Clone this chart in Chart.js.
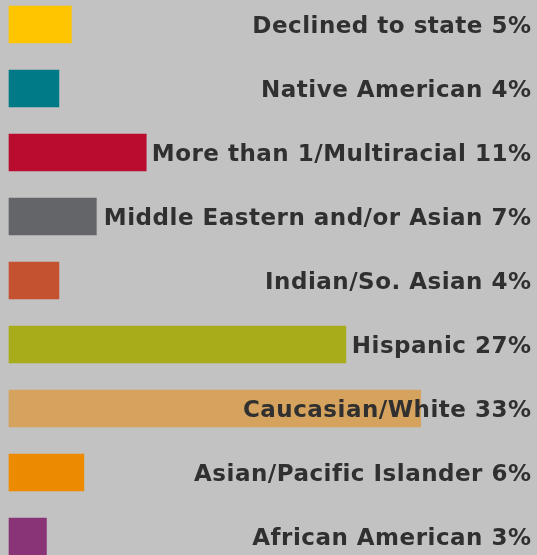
<!DOCTYPE html>
<html lang="en">
<head>
    <meta charset="UTF-8">
    <title>Ethnicity</title>
    <script src="https://cdn.jsdelivr.net/npm/chart.js"></script>
    <style>
        html, body {
            margin: 0;
            padding: 0;
            background-color: #c2c2c2;
            overflow: hidden;
        }
        #wrap {
            position: relative;
            width: 537px;
            height: 555px;
        }
    </style>
</head>
<body>
    <div id="wrap"><canvas id="grafico"></canvas></div>

    <script>
        const categorias = [
            'Declined to state',
            'Native American',
            'More than 1/Multiracial',
            'Middle Eastern and/or Asian',
            'Indian/So. Asian',
            'Hispanic',
            'Caucasian/White',
            'Asian/Pacific Islander',
            'African American'
        ];
        const valores = [5, 4, 11, 7, 4, 27, 33, 6, 3];
        const cores = ['#ffc600', '#007a87', '#b90c2f', '#636569', '#c4512f',
                       '#a8ac1a', '#d6a35e', '#ec8b00', '#8a3478'];

        // rótulos à direita, alinhados na borda
        const rotulos = {
            id: 'rotulos',
            afterDatasetsDraw(chart) {
                const ctx = chart.ctx;
                const y = chart.scales.y;
                ctx.save();
                ctx.font = 'bold 23px "DejaVu Sans"';
                ctx.letterSpacing = '0.5px';
                ctx.fillStyle = '#303030';
                ctx.textAlign = 'right';
                ctx.textBaseline = 'alphabetic';
                categorias.forEach((c, i) => {
                    ctx.fillText(c + ' ' + valores[i] + '%', 531.5, y.getPixelForValue(i) + 8.5);
                });
                ctx.restore();
            }
        };

        new Chart(document.getElementById('grafico'), {
            type: 'bar',
            data: {
                labels: categorias,
                datasets: [{
                    data: valores,
                    backgroundColor: cores,
                    borderWidth: 0,
                    barThickness: 37,
                    clip: false
                }]
            },
            options: {
                indexAxis: 'y',
                responsive: true,
                maintainAspectRatio: false,
                animation: false,
                layout: { padding: { left: 9, right: 4, top: 24.5, bottom: 18.5 } },
                plugins: {
                    legend: { display: false },
                    tooltip: { enabled: false }
                },
                scales: {
                    x: { display: false, min: 0, max: 42 },
                    y: { display: false, offset: false }
                }
            },
            plugins: [rotulos]
        });
    </script>
</body>
</html>
